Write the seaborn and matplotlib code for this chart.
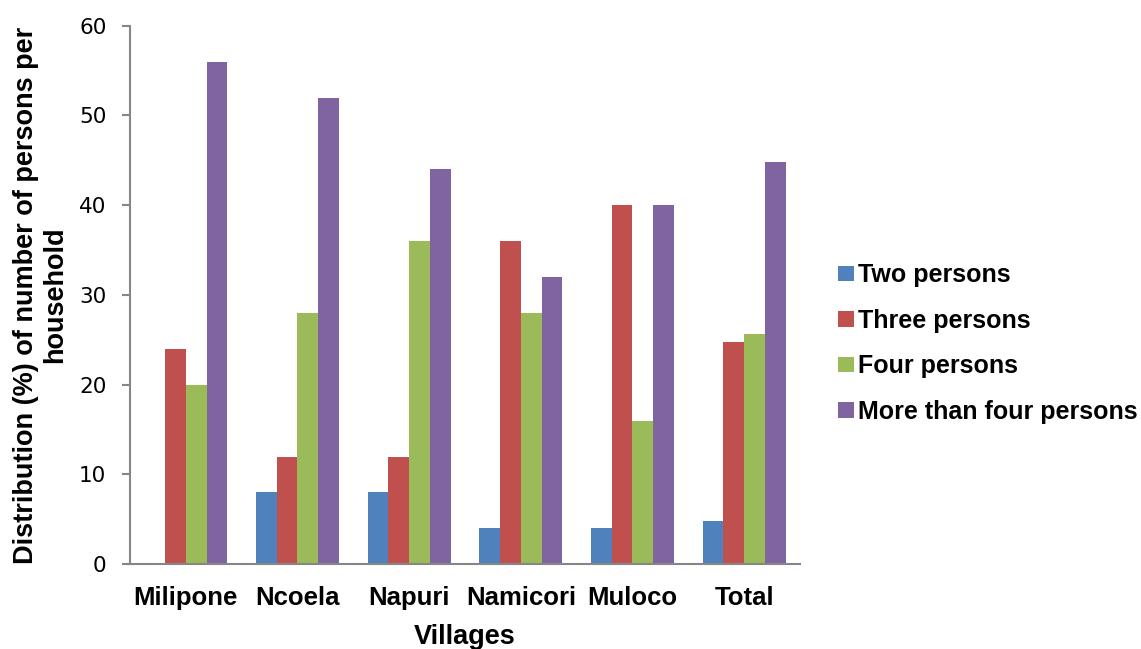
import matplotlib
matplotlib.use("Agg")
import matplotlib.pyplot as plt
import seaborn as sns
import pandas as pd

# Household size distribution (%) by village
villages = ["Milipone", "Ncoela", "Napuri", "Namicori", "Muloco", "Total"]
series = ["Two persons", "Three persons", "Four persons", "More than four persons"]
two_persons = [0, 8, 8, 4, 4, 4.8]
three_persons = [24, 12, 12, 36, 40, 24.8]
four_persons = [20, 28, 36, 28, 16, 25.6]
more_than_four = [56, 52, 44, 32, 40, 44.8]
colors = ["#4F81BD", "#C0504D", "#9BBB59", "#8064A2"]
y_ticks = [0, 10, 20, 30, 40, 50, 60]

rows = []
for name, vals in zip(series, [two_persons, three_persons, four_persons, more_than_four]):
    for v, val in zip(villages, vals):
        rows.append({"Village": v, "Group": name, "Percent": val})
df = pd.DataFrame(rows)

sns.set_theme(style="white")
plt.rcParams["font.family"] = ["Liberation Sans", "DejaVu Sans"]
plt.rcParams["text.color"] = "black"

fig = plt.figure(figsize=(11.41, 6.49), dpi=100)
ax = fig.add_axes([130 / 1141, 84.8 / 649, 670 / 1141, 538.5 / 649])

sns.barplot(data=df, x="Village", y="Percent", hue="Group", order=villages,
            hue_order=series, palette=colors, width=0.742, linewidth=0,
            saturation=1, errorbar=None, ax=ax)

ax.set_ylim(0, 60)
ax.set_xlim(-0.5, len(villages) - 0.5)
ax.set_yticks(y_ticks)
ax.set_yticklabels([str(t) for t in y_ticks], family="DejaVu Sans", fontsize=15.5)
ax.set_xticks(range(len(villages)))
ax.set_xticklabels(villages, fontsize=18.5, fontweight="bold", color="black")

axis_gray = "#868686"
for side in ["top", "right"]:
    ax.spines[side].set_visible(False)
for side in ["left", "bottom"]:
    ax.spines[side].set_color(axis_gray)
    ax.spines[side].set_linewidth(1.5)

ax.tick_params(axis="y", which="major", direction="out", length=6, width=1.5,
               color=axis_gray, pad=11, left=True, labelcolor="black")
ax.tick_params(axis="x", which="major", length=0, pad=16)

ax.set_ylabel("Distribution (%) of number of persons per\nhousehold",
              fontsize=19.5, fontweight="bold", color="black", labelpad=8,
              linespacing=1.15)
ax.set_xlabel("Villages", fontsize=19.5, fontweight="bold", color="black", labelpad=10)

handles, labels = ax.get_legend_handles_labels()
if ax.get_legend():
    ax.get_legend().remove()
leg = fig.legend(handles, labels, loc="center left",
                 bbox_to_anchor=(838 / 1141, 1 - 343.5 / 649),
                 frameon=False, prop={"weight": "bold", "size": 18},
                 handlelength=0.64, handleheight=0.6, handletextpad=0.15,
                 labelspacing=0.86, borderpad=0, borderaxespad=0)
for t in leg.get_texts():
    t.set_color("black")

fig.savefig("out.png", dpi=100)
